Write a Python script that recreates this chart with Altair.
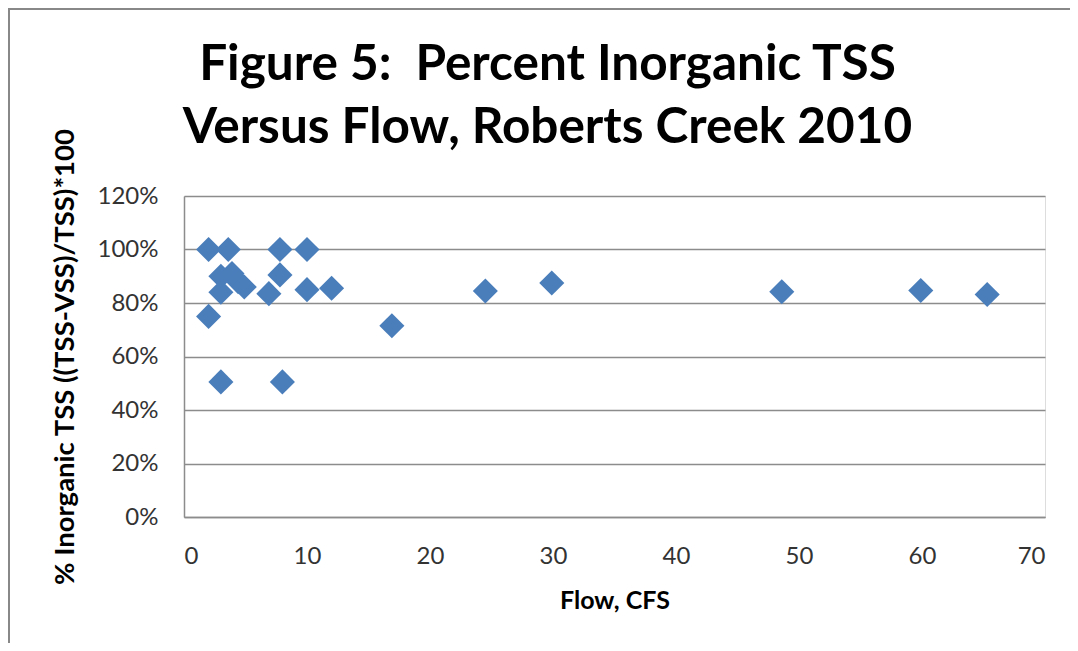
import altair as alt
import pandas as pd

flow_cfs = [2.0, 3.6, 7.8, 10.0,
            3.0, 3.9, 7.8,
            4.4, 4.9, 3.0, 6.9, 10.0, 12.0,
            2.0, 16.9, 3.0, 8.0,
            24.5, 29.9, 48.6, 59.9, 65.3]
pct_inorganic = [1.00, 1.00, 1.00, 1.00,
                 0.90, 0.91, 0.905,
                 0.88, 0.86, 0.84, 0.835, 0.85, 0.855,
                 0.75, 0.715, 0.505, 0.505,
                 0.845, 0.875, 0.842, 0.847, 0.832]

df = pd.DataFrame({"flow": flow_cfs, "pct": pct_inorganic})

FONT = "Lato"
GRID = "#8c8c8c"

points = alt.Chart(df).mark_point(
    shape="diamond", filled=True, size=630, color="#4a7ebb", opacity=1
).encode(
    x=alt.X("flow:Q", scale=alt.Scale(domain=[0, 70], nice=False),
            axis=alt.Axis(values=[0, 10, 20, 30, 40, 50, 60, 70],
                          title="Flow, CFS", grid=False, ticks=False,
                          domainColor=GRID, domainWidth=1.5,
                          labelFontSize=24, labelColor="#333333", labelFont=FONT,
                          labelPadding=27,
                          titleFont=FONT, titleFontSize=25, titleFontWeight="bold",
                          titleColor="#000000", titlePadding=20)),
    y=alt.Y("pct:Q", scale=alt.Scale(domain=[0, 1.2], nice=False),
            axis=alt.Axis(values=[0, 0.2, 0.4, 0.6, 0.8, 1.0, 1.2], format=".0%",
                          title="% Inorganic TSS ((TSS-VSS)/TSS)*100",
                          grid=True, gridColor=GRID, gridWidth=1.5,
                          ticks=False, domainColor=GRID, domainWidth=1.5,
                          labelFontSize=24, labelColor="#333333", labelFont=FONT,
                          labelPadding=26,
                          titleFont=FONT, titleFontSize=27.5, titleFontWeight="bold",
                          titleColor="#000000", titlePadding=18)),
)

frame_df = pd.DataFrame({"k": [0]})
left_border = alt.Chart(frame_df).mark_rule(color="#888888", strokeWidth=2).encode(
    x=alt.value(-175), y=alt.value(-188), y2=alt.value(700)
)
top_border = alt.Chart(frame_df).mark_rule(color="#888888", strokeWidth=2).encode(
    x=alt.value(-176), x2=alt.value(1100), y=alt.value(-187)
)

chart = alt.layer(left_border, top_border, points).properties(
    width=861, height=321,
    padding={"left": 176, "top": 188, "right": 25, "bottom": 126},
    autosize=alt.AutoSizeParams(type="none"),
    title=alt.Title(
        text=["Figure 5:\u00a0 Percent Inorganic TSS", "Versus Flow, Roberts Creek 2010"],
        font=FONT, fontSize=49.5, fontWeight="bold", color="#000000",
        anchor="middle", dx=-67, dy=146, offset=0, lineHeight=63,
    ),
).configure_view(stroke=None).configure(background="white")

chart.save("out.html", embed_options={"renderer": "svg", "actions": False})
